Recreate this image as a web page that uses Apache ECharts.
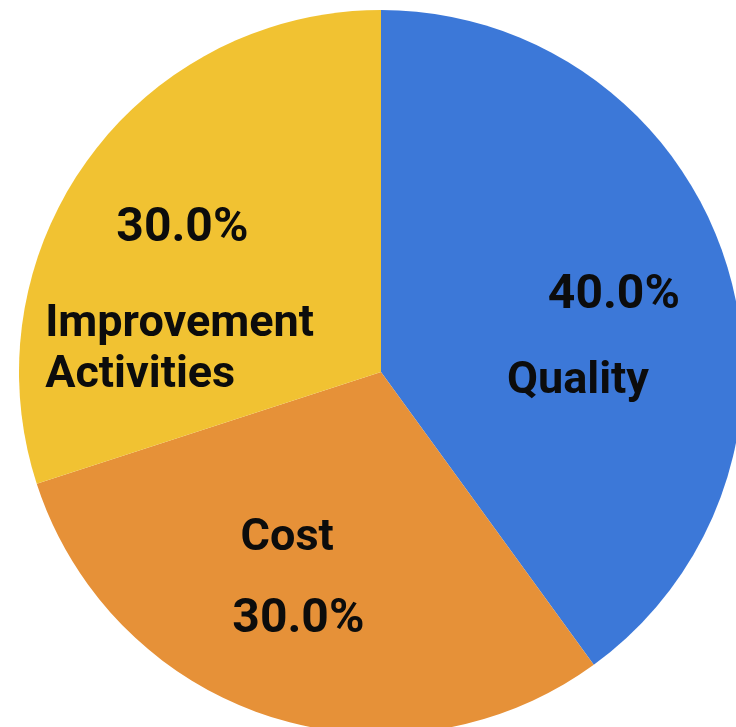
<!DOCTYPE html>
<html>
<head>
<meta charset="utf-8">
<script src="https://cdn.jsdelivr.net/npm/echarts@6/dist/echarts.min.js"></script>
<style>html,body{margin:0;padding:0;background:#fff;}#c{width:736px;height:727px;}</style>
</head>
<body>
<div id="c"></div>
<script>
const categories = ['Quality', 'Cost', 'Improvement Activities'];
const values = [40, 30, 30];
const colors = ['#3c78d8', '#e69138', '#f1c232'];

const chart = echarts.init(document.getElementById('c'), null, {renderer: 'canvas'});
const CENTER = [381, 372];
const R = 362;
const nameFont = {fontFamily: 'Roboto', fontWeight: 'bold', fontSize: 45, color: '#0c0c0c'};
const pctFont = {fontFamily: 'Roboto', fontWeight: 'bold', fontSize: 48, color: '#0c0c0c'};
const nameOffsets = [[22, 67], [-37, -8], [-51, 86]];
const pctOffsets = [[-3, 1], [-6, 12], [2, 3]];

const nameData = categories.map((c, i) => ({
  name: c, value: values[i], itemStyle: {color: colors[i]}, label: {offset: nameOffsets[i]}
}));
const pctData = categories.map((c, i) => ({name: c, value: values[i], label: {offset: pctOffsets[i]}}));

chart.setOption({
  animation: false,
  series: [
    {
      type: 'pie', center: CENTER, radius: [0, R], startAngle: 90, clockwise: true,
      avoidLabelOverlap: false, silent: true,
      itemStyle: {borderWidth: 0},
      labelLine: {show: false},
      label: {
        show: true, position: 'inside', ...nameFont,
        formatter: p => p.name === 'Improvement Activities' ? '{n|Improvement}\n{n|Activities}' : p.name,
        rich: {n: {...nameFont, width: 272, align: 'left', lineHeight: 51}}
      },
      data: nameData
    },
    {
      type: 'pie', center: CENTER, radius: [0, 490], startAngle: 90, clockwise: true,
      avoidLabelOverlap: false, silent: true, z: 5,
      itemStyle: {color: 'rgba(0,0,0,0)', borderWidth: 0},
      labelLine: {show: false},
      label: {show: true, position: 'inside', ...pctFont, formatter: p => p.percent.toFixed(1) + '%'},
      data: pctData
    }
  ]
});
</script>
</body>
</html>
